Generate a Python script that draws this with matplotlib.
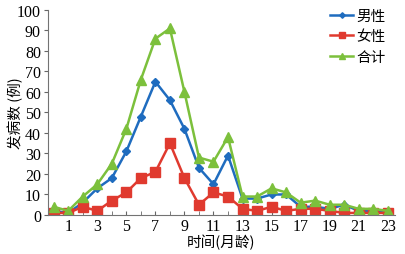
import matplotlib
matplotlib.use("Agg")
import matplotlib.pyplot as plt
import numpy as np

# months of age 0..23
months = np.arange(0, 24)
male = [2, 1, 6, 13, 18, 31, 48, 65, 56, 42, 23, 15, 29, 8, 8, 10, 10, 4, 4, 3, 5, 2, 2, 1]
female = [1, 1, 4, 2, 7, 11, 18, 21, 35, 18, 5, 11, 9, 3, 2, 4, 2, 3, 3, 2, 1, 1, 1, 1]
total = [4, 2, 9, 15, 25, 42, 66, 86, 91, 60, 28, 26, 38, 9, 9, 13, 11, 6, 7, 5, 5, 3, 3, 2]
labels = ["男性", "女性", "合计"]

plt.rcParams["font.family"] = ["Liberation Serif", "Noto Sans CJK SC"]
cjk = ["Noto Sans CJK SC", "DejaVu Sans"]

fig = plt.figure(figsize=(4.06, 2.55), dpi=100)
ax = fig.add_axes([0.118, 0.153, 0.855, 0.804])

blue, red, green = "#1f6cbf", "#e03a2f", "#7cc03c"
ax.plot(months, male, "-D", color=blue, lw=1.8, ms=4, label=labels[0])
ax.plot(months, female, "-s", color=red, lw=1.8, ms=6.5, label=labels[1])
ax.plot(months, total, "-^", color=green, lw=1.8, ms=6.5, label=labels[2])

ax.set_xlim(-0.4, 23.5)
ax.set_ylim(0, 100)
ax.set_xticks(np.arange(1, 24, 2))
ax.set_xticks(months, minor=True)
ax.set_yticks(np.arange(0, 101, 10))
ax.tick_params(axis="x", direction="in", length=3, labelsize=11.5, pad=2, color="0.4")
ax.tick_params(axis="x", which="minor", direction="in", length=3, color="0.4")
ax.tick_params(axis="y", direction="out", length=3, labelsize=11.5, pad=2, color="0.4")
for s in ("top", "right"):
    ax.spines[s].set_visible(False)
for s in ("left", "bottom"):
    ax.spines[s].set_color("0.45")

ax.set_xlabel("时间(月龄)", family=cjk, fontsize=10.5, labelpad=0)
ax.set_ylabel("发病数 (例)", family=cjk, fontsize=10.5)
ax.yaxis.set_label_coords(-0.07, 0.5)

leg = ax.legend(loc="upper right", bbox_to_anchor=(1.01, 1.07), frameon=False,
                prop={"family": cjk, "size": 10.5}, handlelength=1.6,
                handletextpad=0.2, labelspacing=0.45, markerscale=0.7)

fig.savefig("out.png", dpi=100)
